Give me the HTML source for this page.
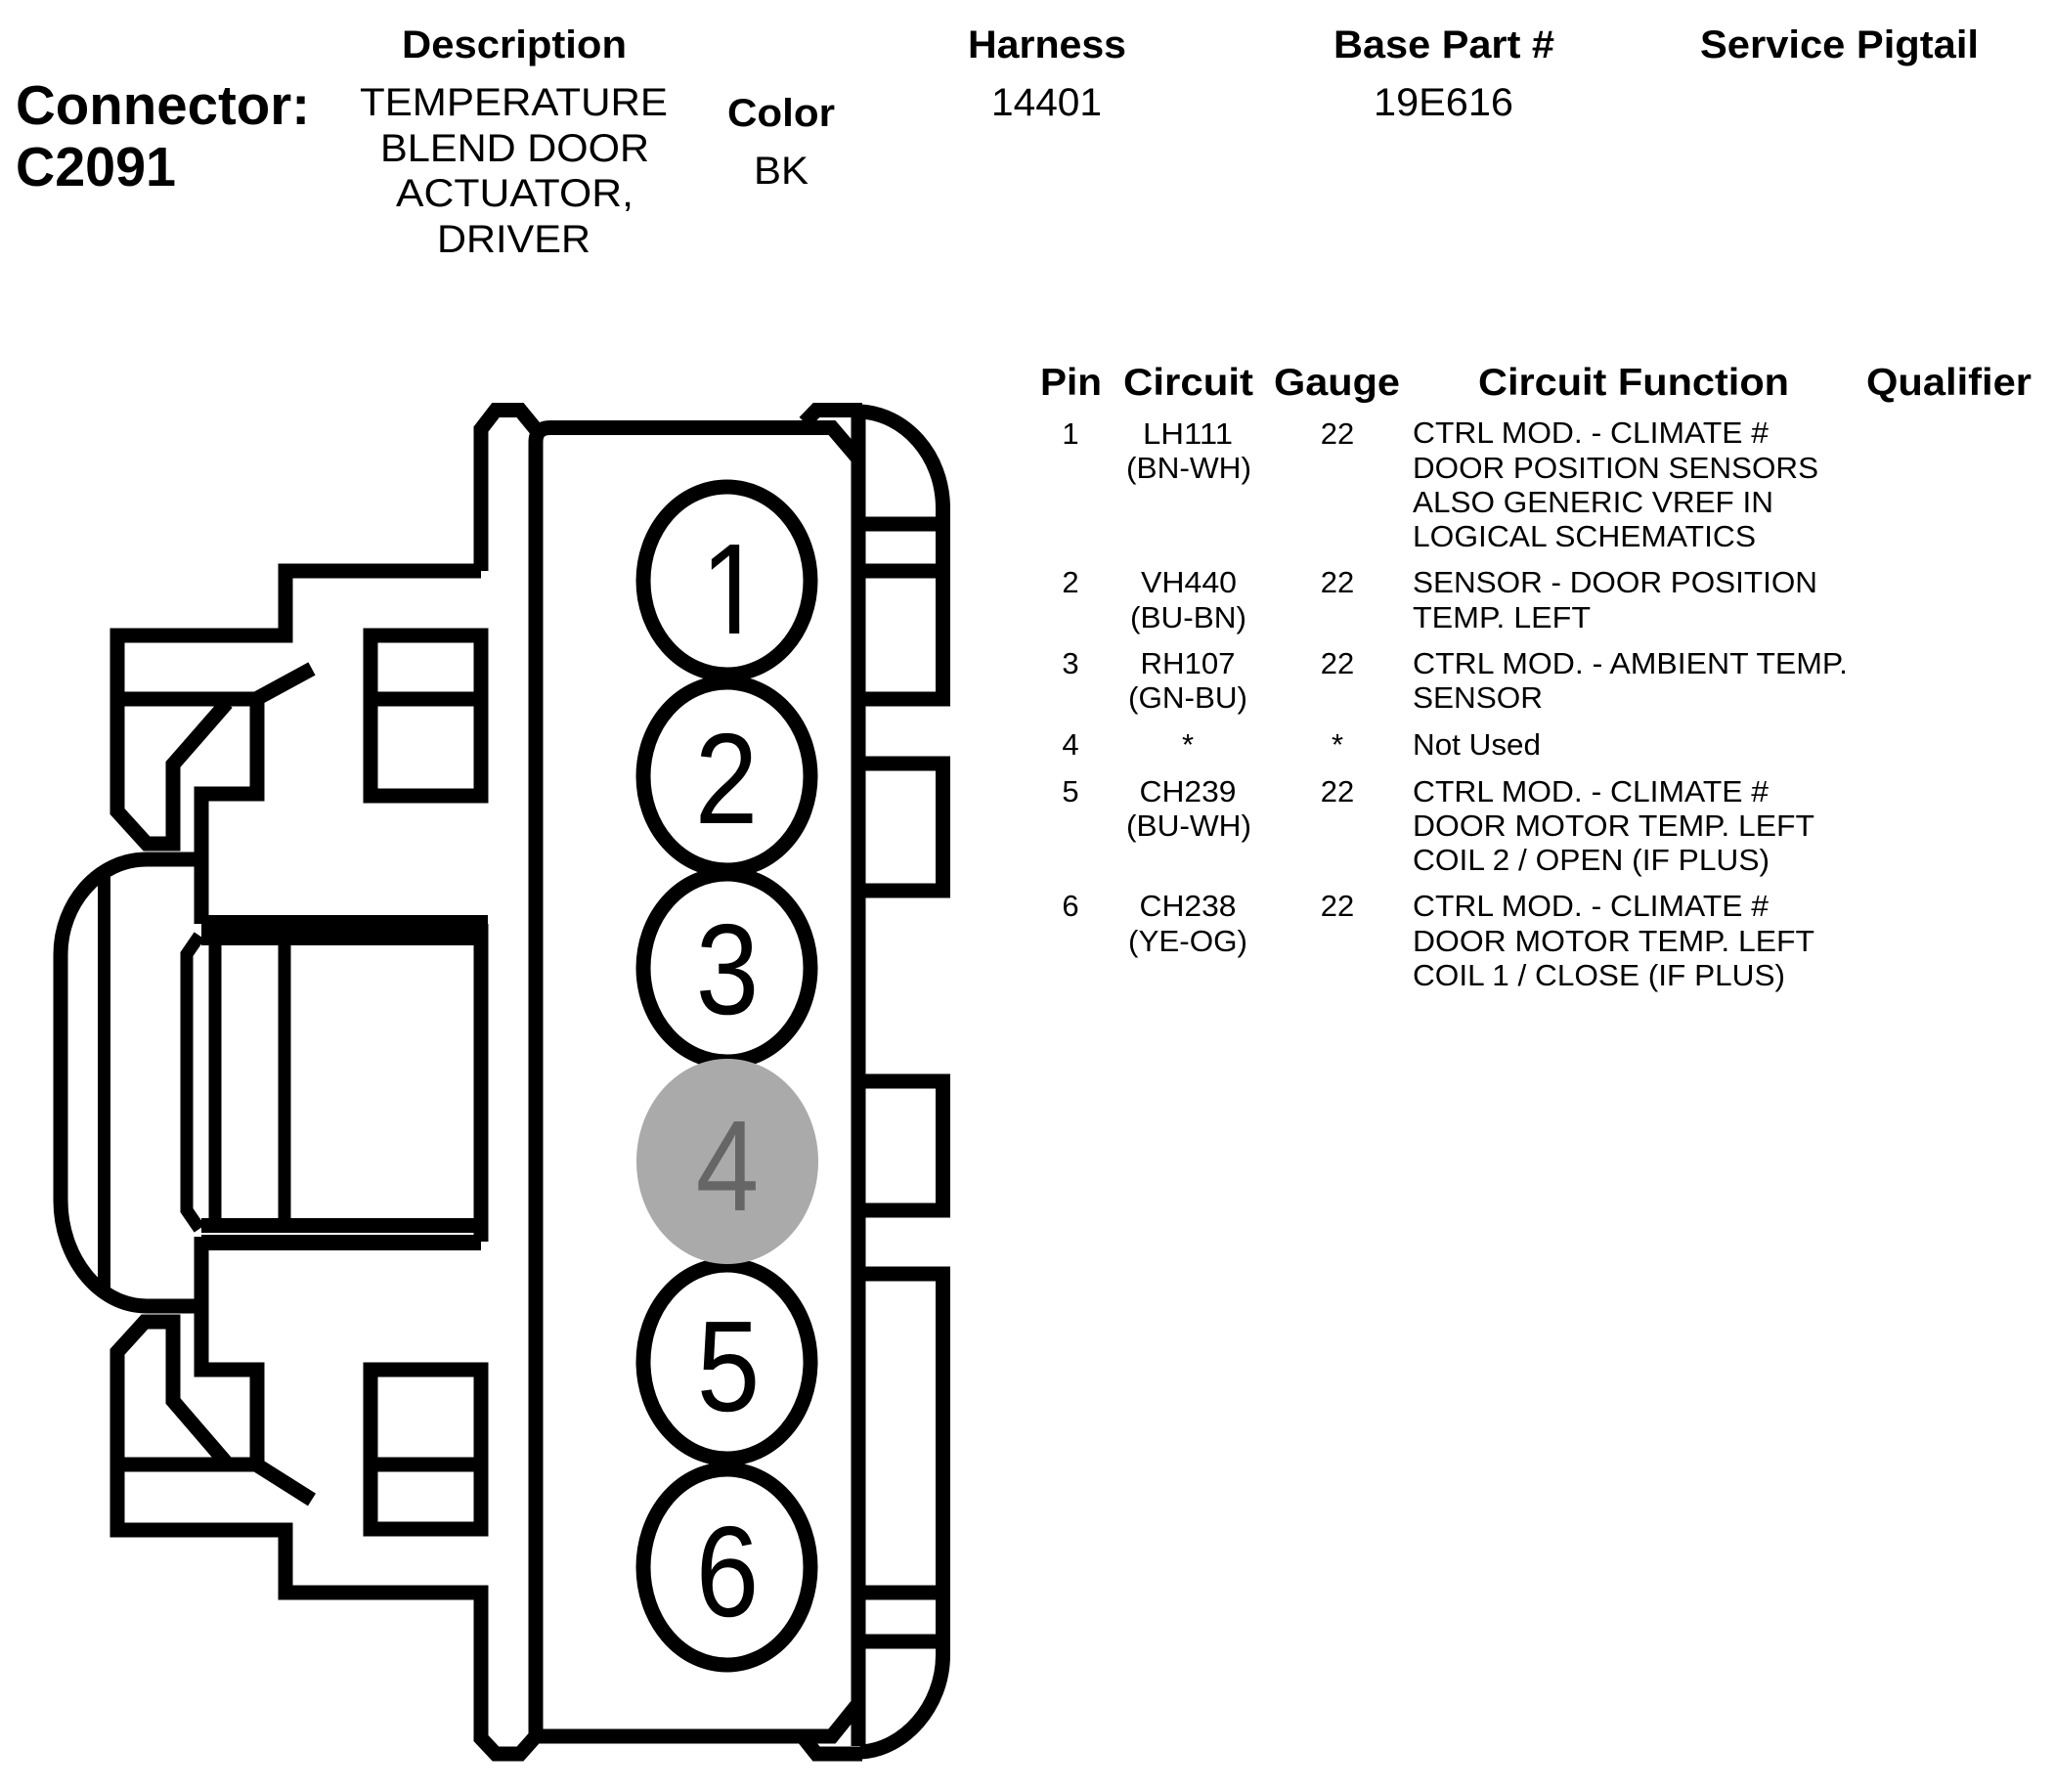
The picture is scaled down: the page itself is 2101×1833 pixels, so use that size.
<!DOCTYPE html>
<html><head><meta charset="utf-8"><style>
html,body{margin:0;padding:0;background:#fff}
svg{display:block}
text{font-family:"Liberation Sans",Arial,sans-serif;fill:#000}
.b{font-weight:bold;font-size:40px}
.t{font-size:40px}
.h{font-weight:bold;font-size:39px}
.r{font-size:31px}
.d{font-size:132px}
</style></head><body>
<svg width="2101" height="1833" viewBox="0 0 2101 1833" xmlns="http://www.w3.org/2000/svg">
<rect width="2101" height="1833" fill="#fff"/>
<g fill="none" stroke="#000" stroke-width="15" stroke-linejoin="miter" stroke-linecap="butt">
<!-- top outer housing -->
<path d="M492 584V439L507 419.500H532L548 439"/>
<path d="M492 584H292V650H120V830L150 863H177V782L232 719"/>
<path d="M120 715H262L319 684"/>
<path d="M263 715V812H206V945"/>
<path d="M379 650H492V814H379Z"/>
<path d="M379 715H492"/>
<!-- bump -->
<path d="M206 879H150C100 879 62 925 62 976V1228C62 1285 100 1336 150 1336H206"/>
<path d="M106.500 897V1320" stroke-width="13"/>
<!-- window -->
<path d="M204 957L191 976V1238L204 1257" stroke-width="13"/>
<path d="M220 960V1250M291 960V1250" stroke-width="13"/>
<path d="M492 945V1270"/>
<path d="M206 951.500H499" stroke-width="31"/>
<path d="M206 1253.500H499" stroke-width="15"/>
<path d="M206 1271H492" stroke-width="16"/>
<!-- bottom outer housing -->
<path d="M206 1265V1401H263V1498"/>
<path d="M120 1498H262L319 1534"/>
<path d="M118 1385L148 1352H177V1433L233 1498"/>
<path d="M120 1380V1565H292V1629H492V1778L507 1794H532L548 1776"/>
<path d="M379 1401H492V1564H379Z"/>
<path d="M379 1498H492"/>
<!-- main body -->
<path d="M548 1776V452Q548 437.500 563 437.500H851L877 468"/>
<path d="M548 1776H851L876 1745"/>
<path d="M878 425V1786"/>
<path d="M823 432L835 419.500H882"/>
<path d="M823 1779L835 1794H882"/>
<!-- right side -->
<path d="M880 421C925 423 964.500 465 964.500 520V715H877"/>
<path d="M877 536H964"/>
<path d="M877 584H964"/>
<path d="M877 781H964.500V911H877"/>
<path d="M877 1106H964.500V1238H877"/>
<path d="M877 1303H964.500V1693C964.500 1745 925 1790 880 1792"/>
<path d="M877 1629H964"/>
<path d="M877 1679H964"/>
</g>
<!-- pins -->
<g fill="#fff" stroke="#000" stroke-width="15">
<ellipse cx="743.500" cy="594" rx="85.500" ry="96"/>
<ellipse cx="743.500" cy="794" rx="85.500" ry="96"/>
<ellipse cx="743.500" cy="990" rx="85.500" ry="96"/>
<ellipse cx="743.500" cy="1393" rx="85.500" ry="99"/>
<ellipse cx="743.500" cy="1603" rx="85.500" ry="100"/>
</g>
<ellipse cx="744" cy="1188" rx="93" ry="105" fill="#aaa"/>
<g>
<text class="d" text-anchor="middle" transform="translate(749 648) scale(.88 1)">1</text>
<rect x="722" y="637.500" width="24" height="12" fill="#fff"/>
<rect x="756.200" y="637.500" width="24" height="12" fill="#fff"/>
<text class="d" text-anchor="middle" transform="translate(743 842) scale(.88 1)">2</text>
<text class="d" text-anchor="middle" transform="translate(744 1037) scale(.88 1)">3</text>
<text class="d" text-anchor="middle" transform="translate(744 1238) scale(.88 1)" style="fill:#666">4</text>
<text class="d" text-anchor="middle" transform="translate(745 1443) scale(.88 1)">5</text>
<text class="d" text-anchor="middle" transform="translate(744 1653) scale(.88 1)">6</text>
</g>
<!-- header -->
<text x="16" y="127" font-weight="bold" font-size="57" textLength="301" lengthAdjust="spacingAndGlyphs">Connector:</text>
<text x="16" y="190" font-weight="bold" font-size="57" textLength="164" lengthAdjust="spacingAndGlyphs">C2091</text>
<text class="b" x="411" y="59" textLength="230" lengthAdjust="spacingAndGlyphs">Description</text>
<text class="t" x="368" y="118" textLength="315" lengthAdjust="spacingAndGlyphs">TEMPERATURE</text>
<text class="t" x="389" y="165" textLength="275" lengthAdjust="spacingAndGlyphs">BLEND DOOR</text>
<text class="t" x="405" y="211" textLength="243" lengthAdjust="spacingAndGlyphs">ACTUATOR,</text>
<text class="t" x="447" y="258" textLength="157" lengthAdjust="spacingAndGlyphs">DRIVER</text>
<text class="b" x="744" y="129" textLength="110" lengthAdjust="spacingAndGlyphs">Color</text>
<text class="t" x="771" y="188" textLength="56" lengthAdjust="spacingAndGlyphs">BK</text>
<text class="b" x="990" y="59" textLength="162" lengthAdjust="spacingAndGlyphs">Harness</text>
<text class="t" x="1014" y="118" textLength="113" lengthAdjust="spacingAndGlyphs">14401</text>
<text class="b" x="1364" y="59" textLength="226" lengthAdjust="spacingAndGlyphs">Base Part #</text>
<text class="t" x="1405" y="118" textLength="143" lengthAdjust="spacingAndGlyphs">19E616</text>
<text class="b" x="1739" y="59" textLength="285" lengthAdjust="spacingAndGlyphs">Service Pigtail</text>
<!-- table headers -->
<text class="h" x="1064" y="404" textLength="63" lengthAdjust="spacingAndGlyphs">Pin</text>
<text class="h" x="1149" y="404" textLength="133" lengthAdjust="spacingAndGlyphs">Circuit</text>
<text class="h" x="1303" y="404" textLength="129" lengthAdjust="spacingAndGlyphs">Gauge</text>
<text class="h" x="1512" y="404" textLength="318" lengthAdjust="spacingAndGlyphs">Circuit Function</text>
<text class="h" x="1909" y="404" textLength="169" lengthAdjust="spacingAndGlyphs">Qualifier</text>
<!-- table rows -->
<g text-anchor="middle">
<text class="r" x="1095" y="454">1</text><text class="r" x="1095" y="606">2</text><text class="r" x="1095" y="689">3</text><text class="r" x="1095" y="772">4</text><text class="r" x="1095" y="820">5</text><text class="r" x="1095" y="937">6</text>
<text class="r" x="1368" y="454">22</text><text class="r" x="1368" y="606">22</text><text class="r" x="1368" y="689">22</text><text class="r" x="1368" y="772">*</text><text class="r" x="1368" y="820">22</text><text class="r" x="1368" y="937">22</text>
<text class="r" x="1215" y="454" textLength="92" lengthAdjust="spacingAndGlyphs">LH111</text><text class="r" x="1216" y="489" textLength="128" lengthAdjust="spacingAndGlyphs">(BN-WH)</text>
<text class="r" x="1216" y="606" textLength="98" lengthAdjust="spacingAndGlyphs">VH440</text><text class="r" x="1215.500" y="642" textLength="119" lengthAdjust="spacingAndGlyphs">(BU-BN)</text>
<text class="r" x="1215" y="689" textLength="97" lengthAdjust="spacingAndGlyphs">RH107</text><text class="r" x="1215" y="724" textLength="122" lengthAdjust="spacingAndGlyphs">(GN-BU)</text>
<text class="r" x="1215" y="772">*</text>
<text class="r" x="1215" y="820" textLength="99" lengthAdjust="spacingAndGlyphs">CH239</text><text class="r" x="1216" y="855" textLength="128" lengthAdjust="spacingAndGlyphs">(BU-WH)</text>
<text class="r" x="1215" y="937" textLength="99" lengthAdjust="spacingAndGlyphs">CH238</text><text class="r" x="1215" y="973" textLength="122" lengthAdjust="spacingAndGlyphs">(YE-OG)</text>
</g>
<text class="r" x="1445" y="453" textLength="364" lengthAdjust="spacingAndGlyphs">CTRL MOD. - CLIMATE #</text>
<text class="r" x="1445" y="489" textLength="415" lengthAdjust="spacingAndGlyphs">DOOR POSITION SENSORS</text>
<text class="r" x="1445" y="524" textLength="369" lengthAdjust="spacingAndGlyphs">ALSO GENERIC VREF IN</text>
<text class="r" x="1445" y="559" textLength="351" lengthAdjust="spacingAndGlyphs">LOGICAL SCHEMATICS</text>
<text class="r" x="1445" y="606" textLength="414" lengthAdjust="spacingAndGlyphs">SENSOR - DOOR POSITION</text>
<text class="r" x="1445" y="642" textLength="182" lengthAdjust="spacingAndGlyphs">TEMP. LEFT</text>
<text class="r" x="1445" y="689" textLength="445" lengthAdjust="spacingAndGlyphs">CTRL MOD. - AMBIENT TEMP.</text>
<text class="r" x="1445" y="724" textLength="133" lengthAdjust="spacingAndGlyphs">SENSOR</text>
<text class="r" x="1445" y="772" textLength="131" lengthAdjust="spacingAndGlyphs">Not Used</text>
<text class="r" x="1445" y="820" textLength="364" lengthAdjust="spacingAndGlyphs">CTRL MOD. - CLIMATE #</text>
<text class="r" x="1445" y="855" textLength="411" lengthAdjust="spacingAndGlyphs">DOOR MOTOR TEMP. LEFT</text>
<text class="r" x="1445" y="890" textLength="365" lengthAdjust="spacingAndGlyphs">COIL 2 / OPEN (IF PLUS)</text>
<text class="r" x="1445" y="937" textLength="364" lengthAdjust="spacingAndGlyphs">CTRL MOD. - CLIMATE #</text>
<text class="r" x="1445" y="973" textLength="411" lengthAdjust="spacingAndGlyphs">DOOR MOTOR TEMP. LEFT</text>
<text class="r" x="1445" y="1008" textLength="381" lengthAdjust="spacingAndGlyphs">COIL 1 / CLOSE (IF PLUS)</text>
</svg>
</body></html>
